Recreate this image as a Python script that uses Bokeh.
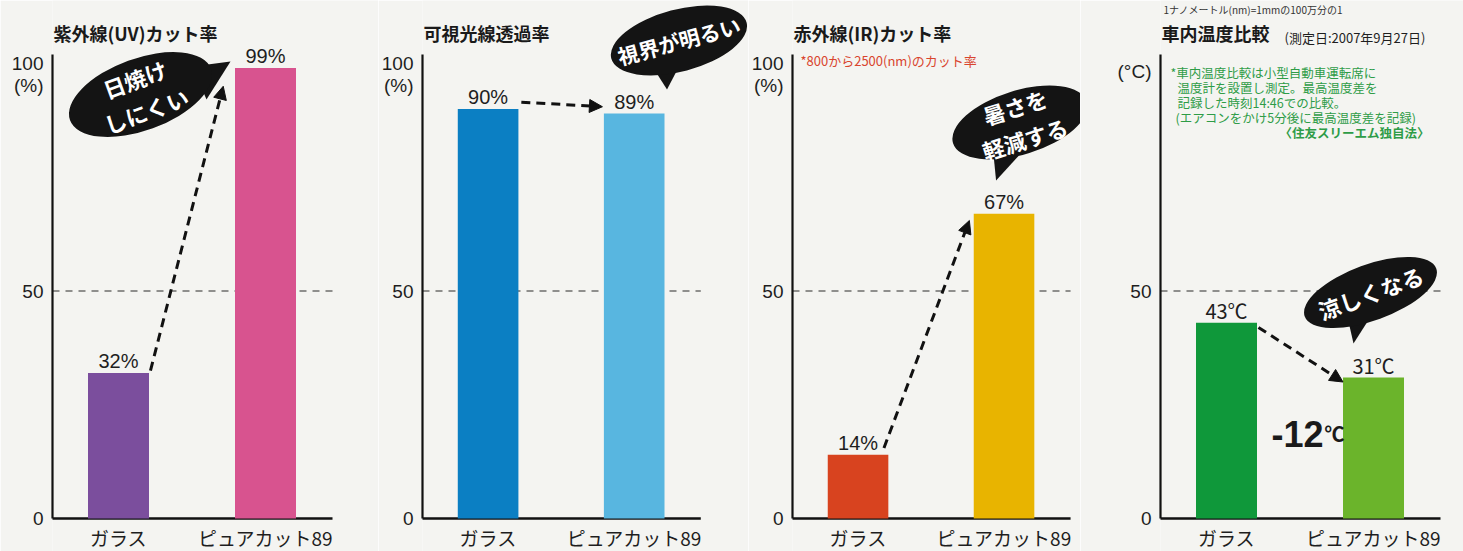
import math
from bokeh.plotting import figure
from bokeh.layouts import row
from bokeh.models import Range1d, FixedTicker, Label, Arrow, NormalHead, ColumnDataSource
from bokeh.core.properties import value
from bokeh.embed import file_html
from bokeh.resources import INLINE

# ---------------- data ----------------
categories = ["ガラス", "ピュアカット89"]
titles = ["紫外線(UV)カット率", "可視光線透過率", "赤外線(IR)カット率", "車内温度比較"]
uv_cut = [32, 99]            # %
visible_trans = [90, 89]     # %
ir_cut = [14, 67]            # %
car_temp = [43, 31]          # ℃
pct_ticks = [0, 50, 100]
temp_ticks = [0, 50]
uv_colors = ["#7b4e9d", "#d8538f"]
vis_colors = ["#0b7fc3", "#58b6e0"]
ir_colors = ["#d8431f", "#e8b400"]
temp_colors = ["#0f983a", "#6bb42b"]
bubble_texts = ["日焼け\nしにくい", "視界が明るい", "暑さを\n軽減する", "涼しくなる"]
ir_note = "*800から2500(nm)のカット率"
temp_note = ["*車内温度比較は小型自動車運転席に",
             "温度計を設置し測定。最高温度差を",
             "記録した時刻14:46での比較。",
             "(エアコンをかけ5分後に最高温度差を記録)",
             "〈住友スリーエム独自法〉"]
temp_date = "(測定日:2007年9月27日)"
nm_note = "1ナノメートル(nm)=1mmの100万分の1"

# ---------------- layout ----------------
BG = "#f4f4f1"
JPS = "Noto Sans CJK JP"
LATS = "Liberation Sans"
JP = value(JPS)
LAT = value(LATS)
TOP = 0             # page y of the figures' top edge
H = 551
PPY = 4.55          # px per unit (y)
PPX = 147.0         # px per category step
CAT0 = 66.0         # px from axis to first category centre
BASE_W = 280.0      # baseline length px
ZERO = 518.0        # page y of value 0
Y0 = -(TOP + H - ZERO) / PPY
Y1 = (ZERO - TOP) / PPY
BAR_W = 61.0 / PPX

# fig left (page), fig width, axis x (page)
panels = [(0, 378, 52), (378, 370, 420), (748, 332, 790), (1080, 383, 1160)]


def Y(py):
    return (ZERO - py) / PPY


def make_panel(idx, vals, colors, ticks, unit, title):
    left, w, axis = panels[idx]
    bl = axis - left
    fw = w - bl
    xs = -CAT0 / PPX
    xe = xs + fw / PPX
    xb = xs + BASE_W / PPX
    p = figure(width=w, height=H, x_range=Range1d(xs, xe), y_range=Range1d(Y0, Y1),
               x_axis_location=None,
               output_backend="svg", toolbar_location=None,
               min_border_left=bl, min_border_right=0, min_border_top=0,
               min_border_bottom=0,
               background_fill_color=BG, border_fill_color=BG,
               outline_line_color=None)
    p.grid.visible = False

    def X(px):
        return (px - axis - CAT0) / PPX

    # y axis (real) with the unit shown as an extra labelled tick
    unit_text = "(%)" if unit == "%" else "(°C)"
    unit_pos = round(Y(85) if unit == "%" else Y(71), 2)
    p.yaxis.ticker = FixedTicker(ticks=ticks + [unit_pos])
    p.yaxis.major_label_overrides = {unit_pos: unit_text}
    p.yaxis.bounds = (0, 102)
    p.yaxis.axis_line_width = 2.2
    p.yaxis.axis_line_color = "#111111"
    p.yaxis.major_tick_line_color = None
    p.yaxis.minor_tick_line_color = None
    p.yaxis.major_tick_out = 0
    p.yaxis.major_tick_in = 0
    p.yaxis.minor_tick_out = 0
    p.yaxis.minor_tick_in = 0
    p.yaxis.major_label_text_font = LATS
    p.yaxis.major_label_text_font_size = "19px"
    p.yaxis.major_label_text_color = "#1e1e1e"
    p.yaxis.major_label_standoff = 9

    # 50 dashed reference line and baseline
    p.segment(x0=[xs], y0=[50], x1=[xb], y1=[50], line_color="#2a2a2a",
              line_width=1.2, line_dash="7 6")
    p.segment(x0=[xs - 0.007], y0=[0], x1=[xb], y1=[0], line_color="#111111", line_width=2.5)

    cat_x = list(range(len(categories)))
    src = ColumnDataSource(dict(x=cat_x, top=vals, color=colors,
                                label=[f"{v}{unit}" for v in vals]))
    p.vbar(x="x", top="top", bottom=0, width=BAR_W, fill_color="color",
           line_color=None, source=src)
    p.text(x="x", y="top", text="label", source=src, y_offset=-12,
           text_align="center", text_baseline="alphabetic",
           text_font=JP if unit == "℃" else LAT, text_font_size="20px",
           text_color="#1e1e1e")
    # category labels under the baseline
    p.text(x=cat_x, y=[0] * len(cat_x), text=categories, y_offset=19,
           text_align="center", text_baseline="middle", text_font=JP,
           text_font_size="19px", text_color="#1e1e1e")

    # title
    p.add_layout(Label(x=X(axis + 1), y=Y(32), text=title, text_font=JPS,
                       text_font_size="18px", text_baseline="middle",
                       text_color="#1a1a1a", text_font_style="bold"))
    return p, X


def bubble(p, X, cx, cy, bw, bh, ang, tail, text, fs="22px"):
    p.patch(x=[X(t[0]) for t in tail], y=[Y(t[1]) for t in tail],
            fill_color="#141414", line_color=None)
    p.ellipse(x=[X(cx)], y=[Y(cy)], width=[bw], height=[bh], angle=ang,
              width_units="screen", height_units="screen",
              fill_color="#141414", line_color=None)
    p.text(x=[X(cx)], y=[Y(cy)], text=[text], angle=ang, text_color="white",
           text_font=JP, text_font_style="bold", text_font_size=fs,
           text_align="center", text_baseline="middle", text_line_height=1.05)


def arrow(p, x0, y0, x1, y1):
    p.add_layout(Arrow(end=NormalHead(size=13, fill_color="#111111",
                                      line_color="#111111", line_width=1),
                       x_start=x0, y_start=y0, x_end=x1, y_end=y1,
                       line_color="#111111", line_width=3, line_dash="9 6"))


hw = BAR_W / 2

# ---- panel 1 ----
p1, X1 = make_panel(0, uv_cut, uv_colors, pct_ticks, "%", titles[0])
arrow(p1, 0 + hw + 0.01, uv_cut[0] + 0.5, 1 - hw - 0.08, uv_cut[1] - 4)
bubble(p1, X1, 140, 94, 150, 72, 0.35, [(192, 66), (206, 99), (230, 61)], bubble_texts[0])

# ---- panel 2 ----
p2, X2 = make_panel(1, visible_trans, vis_colors, pct_ticks, "%", titles[1])
arrow(p2, 0 + hw + 0.02, visible_trans[0] + 1.5, 1 - hw - 0.01, visible_trans[1] + 1.5)
bubble(p2, X2, 678, 40, 140, 62, 0.26, [(650, 64), (676, 70), (666, 89)], bubble_texts[1],
       fs="21px")

# ---- panel 3 ----
p3, X3 = make_panel(2, ir_cut, ir_colors, pct_ticks, "%", titles[2])
arrow(p3, 0 + hw - 0.03, ir_cut[0] + 1.5, 1 - hw - 0.03, ir_cut[1] - 1.5)
bubble(p3, X3, 1019, 122, 140, 64, 0.3, [(992, 150), (1018, 155), (995, 180)], bubble_texts[2])
p3.add_layout(Label(x=X3(798), y=Y(60), text=ir_note, text_font=JPS, text_font_size="13px",
                    text_baseline="middle", text_color="#d9452e"))

# ---- panel 4 ----
p4, X4 = make_panel(3, car_temp, temp_colors, temp_ticks, "℃", titles[3])
arrow(p4, 0 + hw + 0.01, car_temp[0] - 1, 1 - hw, car_temp[1] - 1)
bubble(p4, X4, 1370, 292, 140, 56, 0.35, [(1345, 308), (1369, 318), (1353, 343)], bubble_texts[3])
p4.add_layout(Label(x=X4(1284), y=Y(37), text=temp_date, text_font=JPS, text_font_size="13px",
                    text_baseline="middle", text_color="#1e1e1e"))
note_x = [1170, 1177, 1177, 1175, None]
for k, line in enumerate(temp_note):
    if note_x[k] is None:
        p4.add_layout(Label(x=X4(1429), y=Y(72 + 15 * k), text=line, text_font=JPS,
                            text_font_size="12.5px", text_baseline="middle",
                            text_align="right", text_color="#2e9c47",
                            text_font_style="bold"))
    else:
        p4.add_layout(Label(x=X4(note_x[k]), y=Y(72 + 15 * k), text=line, text_font=JPS,
                            text_font_size="12.5px", text_baseline="middle",
                            text_color="#2e9c47"))
p4.add_layout(Label(x=X4(1163), y=Y(9), text=nm_note, text_font=JPS, text_font_size="10px",
                    text_baseline="middle", text_color="#333333"))
diff = car_temp[1] - car_temp[0]
p4.add_layout(Label(x=X4(1323), y=Y(433), text=f"{diff}", text_font=LATS,
                    text_font_size="36px", text_font_style="bold", text_align="right",
                    text_baseline="alphabetic", text_color="#1a1a1a"))
p4.add_layout(Label(x=X4(1324), y=Y(433), text="℃", text_font=JPS,
                    text_font_size="20px", text_font_style="bold", text_align="left",
                    text_baseline="alphabetic", text_color="#1a1a1a"))

layout = row(p1, p2, p3, p4)
open("out.html", "w").write(file_html(layout, INLINE))
